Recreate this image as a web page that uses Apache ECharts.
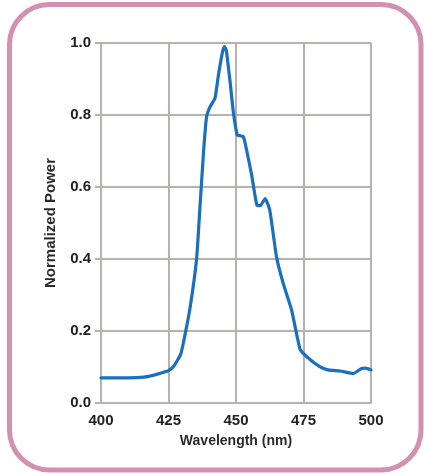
<!DOCTYPE html>
<html>
<head>
<meta charset="utf-8">
<script src="https://cdn.jsdelivr.net/npm/echarts@6/dist/echarts.min.js"></script>
<style>
html,body{margin:0;padding:0;background:#fff;}
#c{width:424px;height:476px;}
</style>
</head>
<body>
<div id="c"></div>
<script>
var wavelength = [400, 405, 410, 416, 420, 423, 425, 427, 429.5, 431, 433, 435.4, 436.7, 438, 439.1, 440.4, 442.2, 443.5, 445, 445.7, 446.4, 447.8, 449, 450.5, 452.7, 454, 455.8, 457.7, 459, 460.8, 462.5, 465, 467.5, 470.6, 473.7, 476, 481, 484, 488.5, 493.5, 496.5, 498, 500];
var power = [0.070, 0.070, 0.070, 0.072, 0.078, 0.085, 0.090, 0.103, 0.135, 0.185, 0.265, 0.40, 0.55, 0.70, 0.795, 0.823, 0.846, 0.911, 0.975, 0.99, 0.98, 0.893, 0.809, 0.744, 0.74, 0.70, 0.633, 0.55, 0.548, 0.568, 0.536, 0.406, 0.332, 0.258, 0.150, 0.130, 0.101, 0.092, 0.089, 0.082, 0.096, 0.097, 0.092];
var xTicks = [400, 425, 450, 475, 500];
var yTicks = [0, 0.2, 0.4, 0.6, 0.8, 1.0];

var data = wavelength.map(function (w, i) { return [w, power[i]]; });
var font = "'Liberation Sans Narrow', 'Arial Narrow', 'Liberation Sans', Arial, sans-serif";
var gridColor = '#b9b0b0';

var chart = echarts.init(document.getElementById('c'));
chart.setOption({
  backgroundColor: '#fff',
  animation: false,
  grid: { left: 101, right: 53, top: 43, bottom: 73 },
  graphic: [{
    type: 'rect',
    shape: { x: 9.5, y: 4.5, width: 411.5, height: 465.5, r: 40 },
    style: { fill: 'none', stroke: '#d490b3', lineWidth: 5 },
    silent: true
  }],
  xAxis: {
    type: 'value',
    min: xTicks[0],
    max: xTicks[xTicks.length - 1],
    interval: 25,
    name: 'Wavelength (nm)',
    nameLocation: 'middle',
    nameGap: 31,
    nameTextStyle: { fontFamily: font, fontSize: 14, fontWeight: 'bold', color: '#2a2a2a' },
    axisLine: { show: true, lineStyle: { color: gridColor, width: 2 } },
    axisTick: { show: false },
    axisLabel: { fontFamily: font, fontSize: 15, fontWeight: 'bold', color: '#222', margin: 10 },
    splitLine: { show: true, lineStyle: { color: gridColor, width: 2 } }
  },
  yAxis: {
    type: 'value',
    min: yTicks[0],
    max: yTicks[yTicks.length - 1],
    interval: 0.2,
    name: 'Normalized Power',
    nameLocation: 'middle',
    nameGap: 43,
    nameTextStyle: { fontFamily: font, fontSize: 15, fontWeight: 'bold', color: '#2a2a2a' },
    axisLine: { show: true, lineStyle: { color: gridColor, width: 2 } },
    axisTick: { show: true, length: 6, lineStyle: { color: gridColor, width: 2 } },
    axisLabel: { fontFamily: font, fontSize: 15, fontWeight: 'bold', color: '#222', margin: 10,
      formatter: function (v) { return v.toFixed(1); } },
    splitLine: { show: true, lineStyle: { color: gridColor, width: 2 } }
  },
  series: [{
    type: 'line',
    data: data,
    smooth: 0.15,
    symbol: 'none',
    lineStyle: { color: '#1a6fbf', width: 3.2, join: 'round', cap: 'round' }
  }]
});
</script>
</body>
</html>
